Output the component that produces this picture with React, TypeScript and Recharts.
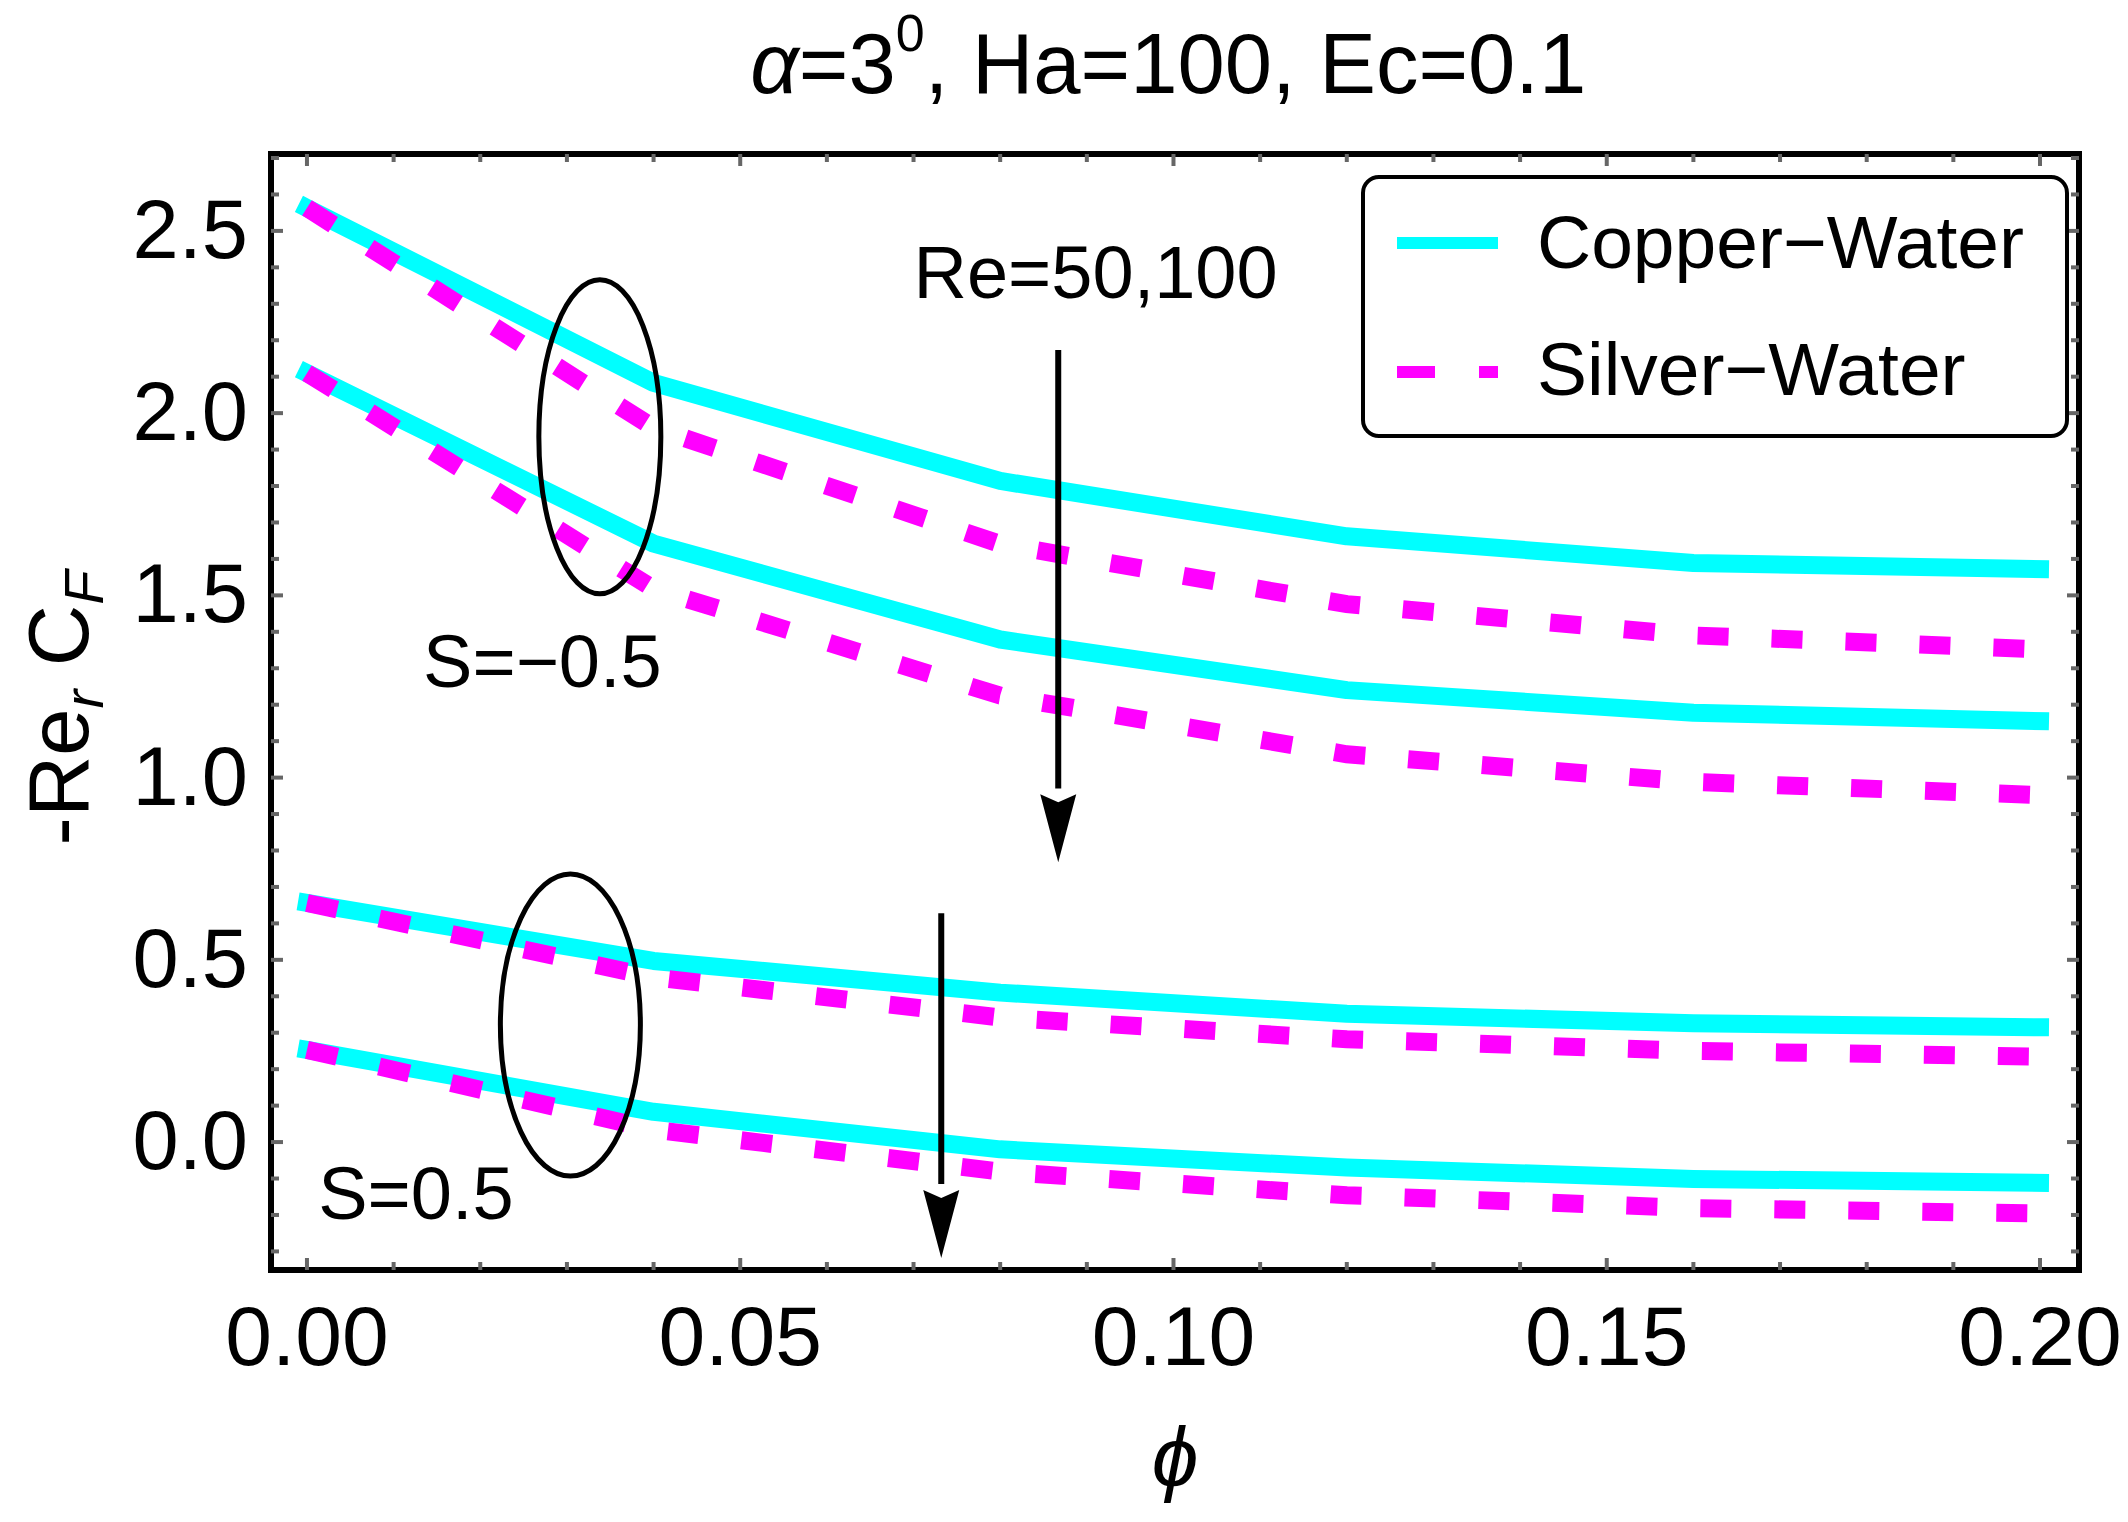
import React from "react";
import {
  LineChart,
  Line,
  XAxis,
  YAxis,
  Legend,
  ReferenceDot,
  ReferenceLine,
} from "recharts";

// ---------- data ----------
const phiValues = [0, 0.04, 0.08, 0.12, 0.16, 0.2];

// S = -0.5
const cuNegRe50 = [2.563, 2.083, 1.814, 1.662, 1.589, 1.572];
const agNegRe50 = [2.563, 1.96, 1.641, 1.476, 1.39, 1.352];
const cuNegRe100 = [2.11, 1.642, 1.379, 1.24, 1.178, 1.155];
const agNegRe100 = [2.11, 1.518, 1.225, 1.064, 0.988, 0.952];
// S = 0.5
const cuPosRe50 = [0.656, 0.497, 0.41, 0.352, 0.326, 0.315];
const agPosRe50 = [0.656, 0.452, 0.342, 0.282, 0.25, 0.234];
const cuPosRe100 = [0.253, 0.083, -0.02, -0.07, -0.101, -0.112];
const agPosRe100 = [0.253, 0.034, -0.081, -0.146, -0.181, -0.196];

const xTicks = [
  0, 0.01, 0.02, 0.03, 0.04, 0.05, 0.06, 0.07, 0.08, 0.09, 0.1, 0.11, 0.12,
  0.13, 0.14, 0.15, 0.16, 0.17, 0.18, 0.19, 0.2,
];
const xMajorTicks = [0, 0.05, 0.1, 0.15, 0.2];
const yTicks = [
  -0.3, -0.2, -0.1, 0, 0.1, 0.2, 0.3, 0.4, 0.5, 0.6, 0.7, 0.8, 0.9, 1.0, 1.1,
  1.2, 1.3, 1.4, 1.5, 1.6, 1.7, 1.8, 1.9, 2.0, 2.1, 2.2, 2.3, 2.4, 2.5, 2.6,
  2.7,
];
const yMajorTicks = [0, 0.5, 1.0, 1.5, 2.0, 2.5];

const seriesKeys = [
  { key: "cuNegRe50", values: cuNegRe50, fluid: "cu" },
  { key: "cuNegRe100", values: cuNegRe100, fluid: "cu" },
  { key: "cuPosRe50", values: cuPosRe50, fluid: "cu" },
  { key: "cuPosRe100", values: cuPosRe100, fluid: "cu" },
  { key: "agNegRe50", values: agNegRe50, fluid: "ag" },
  { key: "agNegRe100", values: agNegRe100, fluid: "ag" },
  { key: "agPosRe50", values: agPosRe50, fluid: "ag" },
  { key: "agPosRe100", values: agPosRe100, fluid: "ag" },
];

const tableData = phiValues.map((phi, i) => {
  const row: Record<string, number> = { phi };
  seriesKeys.forEach((s) => {
    row[s.key] = s.values[i];
  });
  return row;
});

// ---------- styling ----------
const FONT = "'Liberation Sans', Arial, Helvetica, sans-serif";
const CYAN = "#00FFFF";
const MAGENTA = "#FF00FF";
const TICK_COLOR = "#666666";
const X_DOMAIN: [number, number] = [-0.00415, 0.2045];
const Y_DOMAIN: [number, number] = [-0.351, 2.711];

const isMajor = (v: number, list: number[]) =>
  list.some((m) => Math.abs(m - v) < 1e-9);

const BottomTick = (props: any) => {
  const { x, y, payload } = props;
  const major = isMajor(payload.value, xMajorTicks);
  return (
    <g>
      <line x1={x} x2={x} y1={y} y2={y - (major ? 12 : 8)} stroke={TICK_COLOR} strokeWidth={4} />
      {major && (
        <text x={x} y={y + 95} textAnchor="middle" fontSize={84} fontFamily={FONT} fill="#000">
          {payload.value.toFixed(2)}
        </text>
      )}
    </g>
  );
};

const TopTick = (props: any) => {
  const { x, y, payload } = props;
  const major = isMajor(payload.value, xMajorTicks);
  return <line x1={x} x2={x} y1={y} y2={y + (major ? 12 : 8)} stroke={TICK_COLOR} strokeWidth={4} />;
};

const LeftTick = (props: any) => {
  const { x, y, payload } = props;
  const major = isMajor(payload.value, yMajorTicks);
  return (
    <g>
      <line x1={x} x2={x + (major ? 12 : 8)} y1={y} y2={y} stroke={TICK_COLOR} strokeWidth={4} />
      {major && (
        <text x={x - 23} y={y + 27} textAnchor="end" fontSize={83} fontFamily={FONT} fill="#000">
          {payload.value.toFixed(1)}
        </text>
      )}
    </g>
  );
};

const RightTick = (props: any) => {
  const { x, y, payload } = props;
  const major = isMajor(payload.value, yMajorTicks);
  return <line x1={x} x2={x - (major ? 12 : 8)} y1={y} y2={y} stroke={TICK_COLOR} strokeWidth={4} />;
};

const frameLine = { stroke: "#000", strokeWidth: 6, strokeLinecap: "square" as const };

const XLabel = (props: any) => {
  const vb = props.viewBox || {};
  return (
    <text x={vb.x + vb.width / 2} y={vb.y + 216} textAnchor="middle" fontSize={84} fontFamily={FONT} fontStyle="italic" fill="#000">
      ϕ
    </text>
  );
};

const YLabel = (props: any) => {
  const vb = props.viewBox || {};
  const cy = vb.y + vb.height / 2 - 4;
  return (
    <text transform={`translate(88, ${cy}) rotate(-90)`} textAnchor="middle" fontSize={85} fontFamily={FONT} fill="#000">
      <tspan>-Re</tspan>
      <tspan fontSize={56} fontStyle="italic" dy={15}>r</tspan>
      <tspan dy={-15}> C</tspan>
      <tspan fontSize={56} fontStyle="italic" dy={15}>F</tspan>
    </text>
  );
};

const legendItems = [
  { label: "Copper−Water", color: CYAN, dash: undefined as string | undefined },
  { label: "Silver−Water", color: MAGENTA, dash: "38 44" },
];

const LegendBox = () => (
  <div
    style={{
      width: 708,
      height: 263,
      boxSizing: "border-box",
      border: "4px solid #000",
      borderRadius: 18,
      background: "#fff",
    }}
  >
    <svg width={700} height={255} style={{ display: "block" }}>
      {legendItems.map((it, i) => {
        const y = i === 0 ? 64 : 193;
        return (
          <g key={it.label}>
            <line x1={32} x2={133} y1={y} y2={y} stroke={it.color} strokeWidth={12} strokeDasharray={it.dash} />
            <text x={172} y={y + (i === 0 ? 25 : 23)} fontSize={75} fontFamily={FONT} fill="#000">
              {it.label}
            </text>
          </g>
        );
      })}
    </svg>
  </div>
);

// annotation shapes
const ellipseShape = (rx: number, ry: number) => (p: any) =>
  <ellipse cx={p.cx} cy={p.cy} rx={rx} ry={ry} fill="none" stroke="#000" strokeWidth={5} />;

const arrowHead = (p: any) => (
  <polygon
    points={`${p.cx},${p.cy} ${p.cx - 18},${p.cy - 68} ${p.cx},${p.cy - 60} ${p.cx + 18},${p.cy - 68}`}
    fill="#000"
  />
);

const textShape = (txt: string) => (p: any) =>
  (
    <text x={p.cx} y={p.cy} fontSize={74} fontFamily={FONT} fill="#000">
      {txt}
    </text>
  );

const titleShape = (p: any) => (
  <text x={p.cx} y={p.cy} textAnchor="middle" fontSize={85} fontFamily={FONT} fill="#000">
    <tspan fontStyle="italic">α</tspan>
    <tspan>=3</tspan>
    <tspan fontSize={52} dy={-42}>0</tspan>
    <tspan dy={42}>, Ha=100, Ec=0.1</tspan>
  </text>
);

export default function App() {
  return (
    <div style={{ position: "absolute", left: 0, top: 0, width: 2128, height: 1522, background: "#fff" }}>
      <LineChart
        width={2128}
        height={1522}
        data={tableData}
        margin={{ top: 153, right: 48, bottom: 0, left: 0 }}
        style={{ fontFamily: FONT }}
      >
        <XAxis
          xAxisId={0}
          dataKey="phi"
          type="number"
          domain={X_DOMAIN}
          allowDataOverflow
          ticks={xTicks}
          interval={0}
          height={252}
          orientation="bottom"
          tickLine={false}
          tickSize={0}
          tickMargin={0}
          axisLine={frameLine}
          tick={<BottomTick />}
          label={<XLabel />}
        />
        <XAxis
          xAxisId="top"
          dataKey="phi"
          type="number"
          domain={X_DOMAIN}
          allowDataOverflow
          ticks={xTicks}
          interval={0}
          height={1}
          orientation="top"
          tickLine={false}
          tickSize={0}
          tickMargin={0}
          axisLine={frameLine}
          tick={<TopTick />}
        />
        <YAxis
          yAxisId={0}
          type="number"
          domain={Y_DOMAIN}
          allowDataOverflow
          ticks={yTicks}
          interval={0}
          width={271}
          orientation="left"
          tickLine={false}
          tickSize={0}
          tickMargin={0}
          axisLine={frameLine}
          tick={<LeftTick />}
          label={<YLabel />}
        />
        <YAxis
          yAxisId="right"
          type="number"
          domain={Y_DOMAIN}
          allowDataOverflow
          ticks={yTicks}
          interval={0}
          width={1}
          orientation="right"
          tickLine={false}
          tickSize={0}
          tickMargin={0}
          axisLine={frameLine}
          tick={<RightTick />}
        />
        <Legend
          layout="horizontal"
          verticalAlign="middle"
          align="center"
          wrapperStyle={{ position: "absolute", left: 1361, top: 175, width: 708, height: 263 }}
          content={() => <LegendBox />}
        />
        {seriesKeys
          .filter((s) => s.fluid === "cu")
          .map((s) => (
            <Line
              key={s.key}
              xAxisId={0}
              yAxisId={0}
              dataKey={s.key}
              type="linear"
              stroke={CYAN}
              strokeWidth={18}
              strokeLinecap="square"
              strokeLinejoin="round"
              dot={false}
              activeDot={false}
              isAnimationActive={false}
            />
          ))}
        {seriesKeys
          .filter((s) => s.fluid === "ag")
          .map((s) => (
            <Line
              key={s.key}
              xAxisId={0}
              yAxisId={0}
              dataKey={s.key}
              type="linear"
              stroke={MAGENTA}
              strokeWidth={18}
              strokeDasharray="31 43"
              strokeLinecap="butt"
              dot={false}
              activeDot={false}
              isAnimationActive={false}
            />
          ))}
        {/* annotations */}
        <ReferenceDot xAxisId={0} yAxisId={0} x={0.0994} y={2.879} r={1} ifOverflow="visible" shape={titleShape} />
        <ReferenceDot xAxisId={0} yAxisId={0} x={0.0338} y={1.935} r={1} ifOverflow="visible" shape={ellipseShape(61, 157)} />
        <ReferenceDot xAxisId={0} yAxisId={0} x={0.0304} y={0.321} r={1} ifOverflow="visible" shape={ellipseShape(70, 151)} />
        <ReferenceLine xAxisId={0} yAxisId={0} ifOverflow="visible" segment={[{ x: 0.0867, y: 2.173 }, { x: 0.0867, y: 0.97 }]} stroke="#000" strokeWidth={6} />
        <ReferenceDot xAxisId={0} yAxisId={0} x={0.0867} y={0.768} r={1} ifOverflow="visible" shape={arrowHead} />
        <ReferenceLine xAxisId={0} yAxisId={0} ifOverflow="visible" segment={[{ x: 0.0732, y: 0.628 }, { x: 0.0732, y: -0.115 }]} stroke="#000" strokeWidth={6} />
        <ReferenceDot xAxisId={0} yAxisId={0} x={0.0732} y={-0.318} r={1} ifOverflow="visible" shape={arrowHead} />
        <ReferenceDot xAxisId={0} yAxisId={0} x={0.07} y={2.316} r={1} ifOverflow="visible" shape={textShape("Re=50,100")} />
        <ReferenceDot xAxisId={0} yAxisId={0} x={0.0134} y={1.249} r={1} ifOverflow="visible" shape={textShape("S=−0.5")} />
        <ReferenceDot xAxisId={0} yAxisId={0} x={0.0013} y={-0.211} r={1} ifOverflow="visible" shape={textShape("S=0.5")} />
      </LineChart>
    </div>
  );
}
